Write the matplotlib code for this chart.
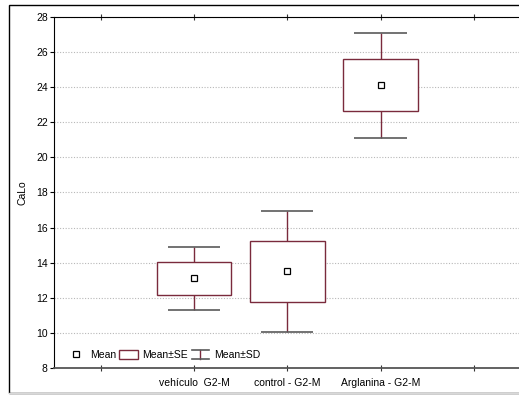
import matplotlib
matplotlib.use("Agg")
import matplotlib.pyplot as plt
from matplotlib.lines import Line2D
from matplotlib.patches import Patch, Rectangle
from matplotlib.legend_handler import HandlerBase

plt.rcParams['font.family'] = ['Liberation Sans', 'DejaVu Sans']
plt.rcParams['font.size'] = 7.5

# Summary statistics per group
groups = ['vehículo  G2-M', 'control - G2-M', 'Arglanina - G2-M']
means = [13.1, 13.5, 24.1]
se = [0.93, 1.74, 1.48]
sd = [1.80, 3.46, 2.97]
y_ticks = [8, 10, 12, 14, 16, 18, 20, 22, 24, 26, 28]

box_color = '#7a2a3c'
cap_color = '#5a5a5a'

fig = plt.figure(figsize=(5.19, 3.96), dpi=100)

# outer frame
fig.add_artist(Rectangle((9 / 519, 3 / 396), 1.2, 388 / 396, transform=fig.transFigure,
                         fill=False, edgecolor='black', linewidth=1.0))
fig.add_artist(Line2D([9 / 519, 1], [3 / 396, 3 / 396], transform=fig.transFigure,
                      color='#d8d8d8', linewidth=1.0))

ax = fig.add_axes([54 / 519, 28 / 396, 466.5 / 519, 351 / 396])
xs = [1, 2, 3]

for x, m, e, d in zip(xs, means, se, sd):
    ax.vlines(x, m + e, m + d, color=box_color, linewidth=1.0, zorder=2)
    ax.vlines(x, m - d, m - e, color=box_color, linewidth=1.0, zorder=2)
    ax.hlines([m + d, m - d], x - 0.28, x + 0.28, color=cap_color, linewidth=1.2, zorder=2)

ax.bar(xs, [2 * e for e in se], bottom=[m - e for m, e in zip(means, se)], width=0.8,
       facecolor='white', edgecolor=box_color, linewidth=1.0, zorder=3)
ax.plot(xs, means, ls='none', marker='s', markersize=4, markerfacecolor='white',
        markeredgecolor='black', markeredgewidth=0.9, zorder=4)

ax.set_xlim(-0.5, 4.5)
ax.set_ylim(8, 28)
ax.set_yticks(y_ticks)
ax.set_xticks([0, 1, 2, 3, 4])
ax.set_xticklabels([''] + groups + [''])
ax.tick_params(axis='x', direction='inout', length=4, width=0.8, top=True, pad=5, colors='#333333',
               labelcolor='black')
ax.tick_params(axis='y', direction='out', length=3, width=0.8, pad=1.5)
ax.grid(axis='y', linestyle=(0, (1, 1.5)), color='#b8b8b8', linewidth=0.8, zorder=0)
ax.set_axisbelow(True)

ax.spines['left'].set_color('black')
ax.spines['top'].set_color('black')
ax.spines['bottom'].set_color('#555555')
ax.spines['bottom'].set_linewidth(1.3)
ax.spines['right'].set_visible(False)

ax.set_ylabel('CaLo', labelpad=6)


class HandlerSD(HandlerBase):
    def create_artists(self, legend, orig_handle, xdescent, ydescent, width, height,
                       fontsize, trans):
        cx = width / 2 - xdescent
        y0 = -ydescent
        stem = Line2D([cx, cx], [y0, y0 + height], color=box_color, linewidth=1.0, transform=trans)
        top = Line2D([cx - width * 0.45, cx + width * 0.45], [y0 + height, y0 + height],
                     color=cap_color, linewidth=1.2, transform=trans)
        bot = Line2D([cx - width * 0.45, cx + width * 0.45], [y0, y0],
                     color=cap_color, linewidth=1.2, transform=trans)
        return [stem, top, bot]


class SDKey:
    pass


h_mean = Line2D([], [], ls='none', marker='s', markersize=4, markerfacecolor='white',
                markeredgecolor='black', markeredgewidth=0.9)
h_se = Patch(facecolor='white', edgecolor=box_color, linewidth=1.0)
h_sd = SDKey()
ax.legend([h_mean, h_se, h_sd], ['Mean', 'Mean±SE', 'Mean±SD'],
          handler_map={SDKey: HandlerSD()},
          loc='center left', bbox_to_anchor=(0.028, 0.037), ncol=3, frameon=False,
          borderpad=0, borderaxespad=0, handlelength=1.8, handleheight=0.9,
          handletextpad=0.4, columnspacing=0.3, fontsize=7.5)

fig.savefig('out.png', dpi=100)
